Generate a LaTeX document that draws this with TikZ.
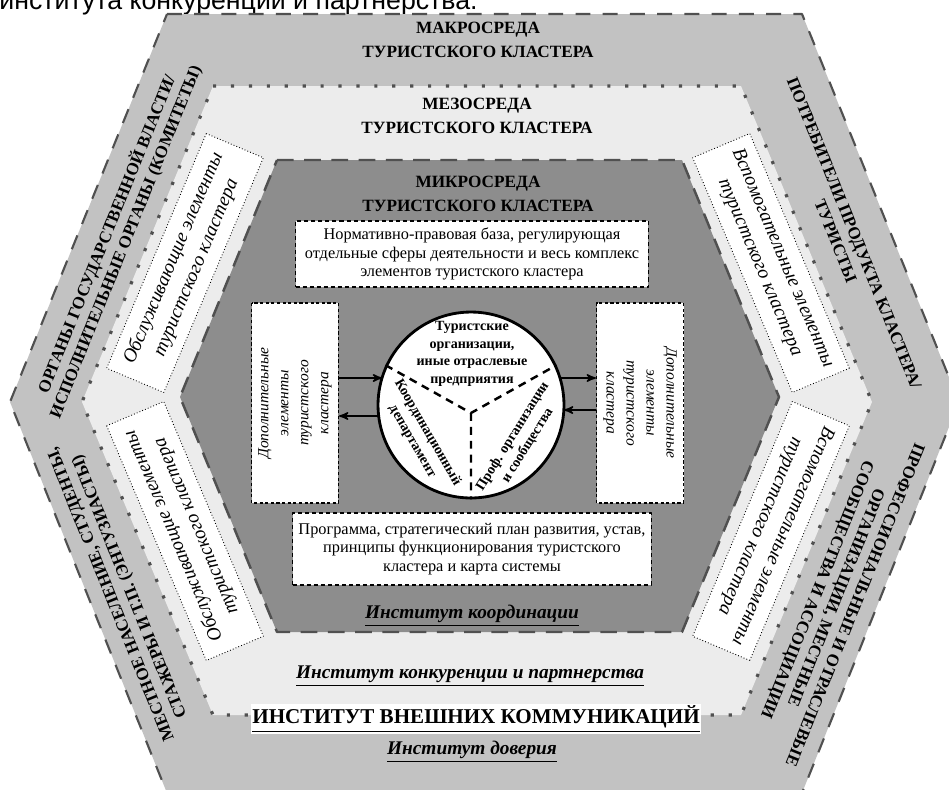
\documentclass[tikz,border=0pt]{standalone}
\usepackage{fontspec}
\setmainfont{Liberation Serif}
\newfontfamily\sansfont{Liberation Sans}
\usepackage{tikz}
\usetikzlibrary{arrows}
\definecolor{macrogray}{RGB}{194,194,194}
\definecolor{mesogray}{RGB}{236,236,236}
\definecolor{microgray}{RGB}{141,141,141}
\definecolor{edgegray}{RGB}{80,80,80}

\begin{document}
\begin{tikzpicture}[line cap=round,line join=round,>=stealth',x=0.02cm,y=-0.02cm,
  macroedge/.style={draw=edgegray,line width=1.2pt,line cap=butt,dash pattern=on 8.5pt off 7pt,fill=macrogray},
  mesoedge/.style={draw=edgegray,line width=1.8pt,line cap=butt,dash pattern=on 1.8pt off 8.4pt,fill=mesogray},
  microedge/.style={draw=edgegray,line width=1.4pt,line cap=butt,dash pattern=on 9.5pt off 6pt,fill=microgray},
  title/.style={align=center,font=\bfseries\fontsize{9.8}{13.5}\selectfont},
  ringtext/.style={align=center,font=\bfseries\fontsize{9.7}{11.5}\selectfont},
  sidebox/.style={draw,fill=white,line width=0.5pt,line cap=butt,dash pattern=on 0.5pt off 1.2pt,align=center,minimum width=5.1cm,minimum height=1.24cm,inner sep=1pt,font=\itshape\fontsize{11}{14}\selectfont},
  plainbox/.style={draw,fill=white,line width=0.8pt,line cap=butt,dash pattern=on 2.3pt off 1.7pt,align=center,minimum width=7.06cm,font=\fontsize{9.3}{10.6}\selectfont},
  dopbox/.style={draw,fill=white,line width=0.7pt,line cap=butt,dash pattern=on 1.8pt off 1.4pt,align=center,minimum width=4cm,minimum height=1.74cm,font=\itshape\fontsize{8.8}{11.4}\selectfont},
  sector/.style={align=center,font=\bfseries\fontsize{8}{10}\selectfont},
  inst/.style={font=\bfseries\itshape\fontsize{11}{13}\selectfont},
  link/.style={->,line width=0.9pt}]
\useasboundingbox (0,0) rectangle (949,789);
\fill[white] (0,0) rectangle (949,789);
% line left over from the page above
\begin{scope}
\clip (0,0) rectangle (949,789);
\node[anchor=base west,inner sep=0,font=\sansfont\fontsize{15.2}{17}\selectfont] (prevline) at (-1,9) {института конкуренции и партнерства.};
\end{scope}
% three environments
\draw[macroedge] (167,14) -- (802,14) -- (959,402) -- (802,793) -- (167,793) -- (10,402) -- cycle;
\draw[mesoedge] (213,86) -- (741,86) -- (872,402) -- (741,715) -- (213,715) -- (82,402) -- cycle;
\draw[microedge] (277,160) -- (682,160) -- (779,397) -- (682,632) -- (277,632) -- (180,397) -- cycle;
\node[title] (macro) at (478,40) {МАКРОСРЕДА\\ТУРИСТСКОГО КЛАСТЕРА};
\node[title] (meso) at (477,116) {МЕЗОСРЕДА\\ТУРИСТСКОГО КЛАСТЕРА};
\node[title] (micro) at (478,194) {МИКРОСРЕДА\\ТУРИСТСКОГО КЛАСТЕРА};
% outer ring
\node[ringtext,rotate=68] (gov) at (116,238) {ОРГАНЫ ГОСУДАРСТВЕННОЙ ВЛАСТИ/\\ИСПОЛНИТЕЛЬНЫЕ ОРГАНЫ (КОМИТЕТЫ)};
\node[ringtext,rotate=112] (locals) at (121,590) {МЕСТНОЕ НАСЕЛЕНИЕ, СТУДЕНТЫ,\\СТАЖЕРЫ И Т.П. (ЭНТУЗИАСТЫ)};
\node[ringtext,rotate=-68] (tourists) at (845,237) {ПОТРЕБИТЕЛИ ПРОДУКТА КЛАСТЕРА/\\ТУРИСТЫ};
\node[ringtext,rotate=-112] (assoc) at (835,597) {ПРОФЕССИОНАЛЬНЫЕ И ОТРАСЛЕВЫЕ\\ОРГАНИЗАЦИИ, МЕСТНЫЕ\\СООБЩЕСТВА И АССОЦИАЦИИ};
% middle ring
\node[sidebox,rotate=67] (servUp) at (185,263) {Обслуживающие элементы\\туристского кластера};
\node[sidebox,rotate=113] (servDown) at (185,531) {Обслуживающие элементы\\туристского кластера};
\node[sidebox,rotate=-67] (auxUp) at (771,263) {Вспомогательные элементы\\туристского кластера};
\node[sidebox,rotate=-113] (auxDown) at (771,531) {Вспомогательные элементы\\туристского кластера};
% inner part
\node[plainbox,minimum height=1.32cm] (norms) at (472,254) {Нормативно-правовая база, регулирующая\\отдельные сферы деятельности и весь комплекс\\элементов туристского кластера};
\node[plainbox,minimum height=1.44cm] (program) at (472,549) {Программа, стратегический план развития, устав,\\принципы функционирования туристского\\кластера и карта системы};
\node[dopbox,rotate=90] (dopL) at (295,403) {Дополнительные\\элементы\\туристского\\кластера};
\node[dopbox,rotate=-90] (dopR) at (640,403) {Дополнительные\\элементы\\туристского\\кластера};
\node[circle,draw,fill=white,line width=1.6pt,minimum size=3.72cm,inner sep=0] (core) at (471,405) {};
\coordinate (hub) at (471,413);
\draw[line width=1.4pt,line cap=butt,dash pattern=on 4.5pt off 3.4pt] (core.155) -- (hub) -- (core.25) (hub) -- (core.south);
\node[sector] (orgs) at (472,354) {Туристские\\организации,\\иные отраслевые\\предприятия};
\node[sector,rotate=-60] (dept) at (420,437) {Координационный\\департамент};
\node[sector,rotate=58] (prof) at (520,441) {Проф. организации\\и сообщества};
\coordinate (inL) at (382,378);
\coordinate (outL) at (379,416);
\coordinate (outR) at (560,378);
\coordinate (inR) at (564,410);
\draw[link] (dopL.south |- inL) -- (inL);
\draw[link] (outL) -- (dopL.south |- outL);
\draw[link] (outR) -- (dopR.south |- outR);
\draw[link] (dopR.south |- inR) -- (inR);
% institutes
\node[inst] (coord) at (472,616) {\underline{Институт координации}};
\node[inst] (compet) at (470,676) {\underline{Институт конкуренции и партнерства}};
\node[fill=white,inner sep=1pt,font=\bfseries\fontsize{12}{14}\selectfont] (extcom) at (476,719) {\underline{ИНСТИТУТ ВНЕШНИХ КОММУНИКАЦИЙ}};
\node[inst] (trust) at (472,752) {\underline{Институт доверия}};
\end{tikzpicture}
\end{document}
